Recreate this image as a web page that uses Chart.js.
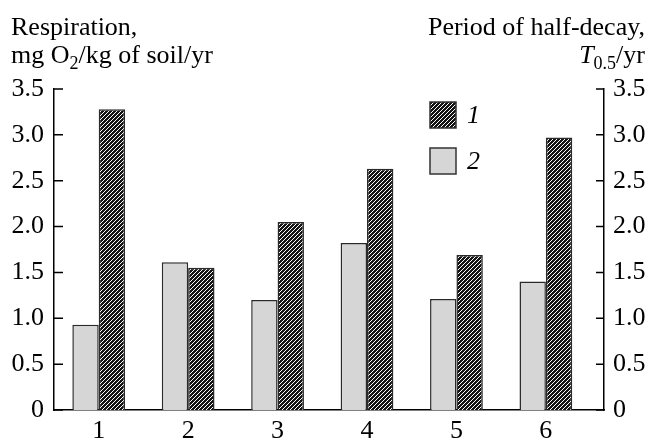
<!DOCTYPE html>
<html>
<head>
<meta charset="utf-8">
<script src="https://cdn.jsdelivr.net/npm/chart.js@4/dist/chart.umd.min.js"></script>
<style>
  html, body { margin: 0; padding: 0; background: #fff; }
  #wrap { width: 650px; height: 441px; }
</style>
</head>
<body>
<div id="wrap"><canvas id="c1"></canvas></div>
<script>
const categories = ['1', '2', '3', '4', '5', '6'];
// series "1" (hatched) and "2" (light gray)
const series1 = [3.28, 1.55, 2.05, 2.63, 1.69, 2.97];
const series2 = [0.93, 1.61, 1.20, 1.82, 1.21, 1.40];
const yTicks = [0, 0.5, 1.0, 1.5, 2.0, 2.5, 3.0, 3.5];
const yTickLabels = ['0', '0.5', '1.0', '1.5', '2.0', '2.5', '3.0', '3.5'];

const FONT = "'Liberation Serif', 'Times New Roman', serif";
const FS = 26;

function hatchPattern() {
    const p = document.createElement('canvas');
    p.width = 4; p.height = 4;
    const g = p.getContext('2d');
    g.fillStyle = '#141414';
    g.fillRect(0, 0, 4, 4);
    g.strokeStyle = '#ffffff';
    g.lineWidth = 1;
    g.beginPath();
    g.moveTo(0, 4); g.lineTo(4, 0);
    g.moveTo(-1, 1); g.lineTo(1, -1);
    g.moveTo(3, 5); g.lineTo(5, 3);
    g.stroke();
    return g.createPattern(p, 'repeat');
}

const canvas = document.getElementById('c1');
const hatch = hatchPattern();
const grayFill = '#d6d6d6';

// inward tick marks on both y axes
const innerTicks = {
    id: 'innerTicks',
    afterDraw(chart) {
        const ctx = chart.ctx;
        const area = chart.chartArea;
        ctx.save();
        ctx.strokeStyle = '#000';
        ctx.lineWidth = 1.5;
        chart.scales.y.ticks.forEach(t => {
            const py = chart.scales.y.getPixelForValue(t.value);
            ctx.beginPath();
            ctx.moveTo(area.left, py); ctx.lineTo(area.left + 9, py);
            ctx.moveTo(area.right, py); ctx.lineTo(area.right - 8, py);
            ctx.stroke();
        });
        ctx.restore();
    }
};

// axis titles with subscripts
const axisTitles = {
    id: 'axisTitles',
    afterDraw(chart) {
        const ctx = chart.ctx;
        ctx.save();
        ctx.fillStyle = '#000';
        ctx.textBaseline = 'alphabetic';
        const big = FS + 'px ' + FONT;
        const small = '18px ' + FONT;

        ctx.font = big;
        ctx.textAlign = 'left';
        ctx.fillText('Respiration,', 11, 35);
        let x = 11;
        ctx.fillText('mg O', x, 63); x += ctx.measureText('mg O').width;
        ctx.font = small;
        ctx.fillText('2', x, 69); x += ctx.measureText('2').width;
        ctx.font = big;
        ctx.fillText('/kg of soil/yr', x, 63);

        ctx.textAlign = 'right';
        ctx.fillText('Period of half-decay,', 645, 35);
        ctx.textAlign = 'left';
        const it = 'italic ' + FS + 'px ' + FONT;
        ctx.font = it; const wT = ctx.measureText('T').width;
        ctx.font = small; const wS = ctx.measureText('0.5').width;
        ctx.font = big; const wY = ctx.measureText('/yr').width;
        x = 645 - (wT + wS + wY);
        ctx.font = it; ctx.fillText('T', x, 63); x += wT;
        ctx.font = small; ctx.fillText('0.5', x, 69); x += wS;
        ctx.font = big; ctx.fillText('/yr', x, 63);
        ctx.restore();
    }
};

// vertical legend inside the plot
const boxLegend = {
    id: 'boxLegend',
    afterDraw(chart, args, opts) {
        const ctx = chart.ctx;
        ctx.save();
        opts.items.forEach((item, k) => {
            const ds = chart.data.datasets[item.dataset];
            const y = opts.y + k * opts.gap;
            ctx.fillStyle = ds.backgroundColor;
            ctx.fillRect(opts.x, y, 26, 26);
            ctx.strokeStyle = '#333';
            ctx.lineWidth = 1.5;
            ctx.strokeRect(opts.x, y, 26, 26);
            ctx.fillStyle = '#000';
            ctx.font = 'italic ' + FS + 'px ' + FONT;
            ctx.textBaseline = 'middle';
            ctx.textAlign = 'left';
            ctx.fillText(ds.label, opts.x + 37, y + 14);
        });
        ctx.restore();
    }
};

new Chart(canvas, {
    type: 'bar',
    data: {
        datasets: [{
            label: '2',
            data: categories.map((c, i) => ({ x: i + 1, y: series2[i] })),
            backgroundColor: grayFill,
            borderColor: '#2a2a2a',
            borderWidth: 1.5
        }, {
            label: '1',
            data: categories.map((c, i) => ({ x: i + 1, y: series1[i] })),
            backgroundColor: hatch,
            borderColor: '#2a2a2a',
            borderWidth: 1.5
        }]
    },
    options: {
        responsive: true,
        maintainAspectRatio: false,
        animation: false,
        categoryPercentage: 0.59,
        barPercentage: 1,
        layout: { padding: { top: 89, left: 0, right: 0, bottom: 0 } },
        plugins: {
            legend: { display: false },
            tooltip: { enabled: false },
            boxLegend: {
                x: 430, y: 102, gap: 46,
                items: [{ dataset: 1 }, { dataset: 0 }]
            }
        },
        scales: {
            x: {
                type: 'linear',
                offset: false,
                min: 0.5,
                max: 6.65,
                afterBuildTicks: function (scale) {
                    scale.ticks = categories.map((c, i) => ({ value: i + 1 }));
                },
                afterFit: function (scale) { scale.height = 31; },
                grid: { display: false, drawTicks: false, offset: false },
                border: { display: true, color: '#000', width: 1.5 },
                ticks: {
                    color: '#000',
                    padding: 6,
                    font: { family: FONT, size: FS },
                    callback: function (value) { return categories[value - 1]; }
                }
            },
            y: {
                position: 'left',
                min: 0,
                max: 3.5,
                afterBuildTicks: function (scale) {
                    scale.ticks = yTicks.map(v => ({ value: v }));
                },
                afterFit: function (scale) { scale.width = 54; },
                grid: { display: false, drawTicks: false },
                border: { display: true, color: '#000', width: 1.5 },
                ticks: {
                    color: '#000',
                    padding: 10,
                    font: { family: FONT, size: FS },
                    callback: function (value) { return yTickLabels[yTicks.indexOf(value)]; }
                }
            },
            y2: {
                position: 'right',
                min: 0,
                max: 3.5,
                afterBuildTicks: function (scale) {
                    scale.ticks = yTicks.map(v => ({ value: v }));
                },
                afterFit: function (scale) { scale.width = 46; },
                grid: { display: false, drawTicks: false },
                border: { display: true, color: '#000', width: 1.5 },
                ticks: {
                    color: '#000',
                    padding: 9,
                    font: { family: FONT, size: FS },
                    callback: function (value) { return yTickLabels[yTicks.indexOf(value)]; }
                }
            }
        }
    },
    plugins: [innerTicks, axisTitles, boxLegend]
});
</script>
</body>
</html>
